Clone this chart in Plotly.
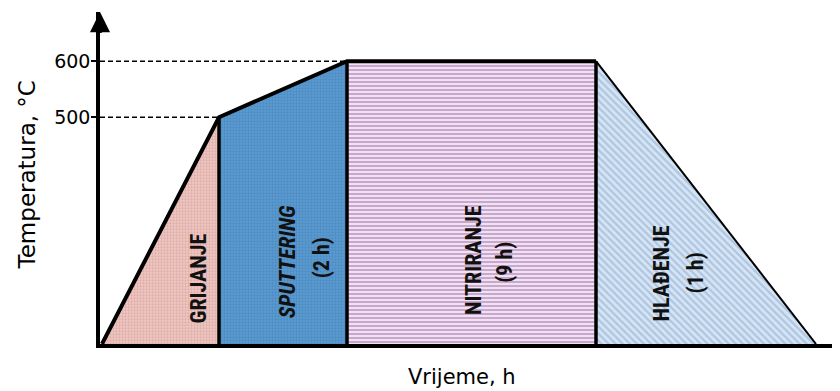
import plotly.graph_objects as go

# Schematic process profile (time axis is schematic, not to scale)
phase_time = [2, 119, 247, 496, 716]          # breakpoints on the schematic time axis
phase_temp = [95, 500, 600, 600, 95]          # temperature at each breakpoint, °C
base_temp = 95
y_ticks = [500, 600]
y_tick_labels = ["500", "600"]

phase_names = ["GRIJANJE", "<i>SPUTTERING</i>", "NITRIRANJE", "HLAĐENJE"]
phase_durations = ["", "(2 h)", "(9 h)", "(1 h)"]
# label anchor positions (schematic time, temperature) for name and duration lines
name_pos = [(98, 212), (187, 241), (373, 245), (561, 221)]
dur_pos = [(None, None), (221, 248), (405, 240), (595, 221)]

fills = [
    dict(bg="#efc9c5", fg="#cf8f88", shape=".", size=3, solidity=0.45),
    dict(bg="#5b9bd0", fg="#3d7db4", shape=".", size=3, solidity=0.45),
    dict(bg="#f1e2f1", fg="#9a62a6", shape="-", size=4, solidity=0.45),
    dict(bg="#d6e4f3", fg="#84a8d0", shape="\\", size=5, solidity=0.45),
]

t, T = phase_time, phase_temp
polys = [
    ([t[0], t[1], t[1]], [T[0], T[1], base_temp]),
    ([t[1], t[1], t[2], t[2]], [base_temp, T[1], T[2], base_temp]),
    ([t[2], t[2], t[3], t[3]], [base_temp, T[2], T[3], base_temp]),
    ([t[3], t[3], t[4]], [base_temp, T[3], T[4]]),
]

fig = go.Figure()
for (px, py), f in zip(polys, fills):
    fig.add_trace(go.Scatter(
        x=px, y=py, fill="toself", mode="lines", line=dict(width=0),
        fillcolor=f["bg"],
        fillpattern=dict(shape=f["shape"], bgcolor=f["bg"], fgcolor=f["fg"],
                         size=f["size"], solidity=f["solidity"]),
        hoverinfo="skip", showlegend=False))

# dashed reference lines
fig.add_trace(go.Scatter(
    x=[0, t[1], None, 0, t[2]], y=[T[1], T[1], None, T[2], T[2]],
    mode="lines", line=dict(color="black", width=1.5, dash="5px,3px"),
    hoverinfo="skip", showlegend=False))

# vertical dividers
vx, vy = [], []
for i in (1, 2, 3):
    vx += [t[i], t[i], None]
    vy += [base_temp, T[i], None]
fig.add_trace(go.Scatter(x=vx, y=vy, mode="lines",
                         line=dict(color="black", width=3.5),
                         hoverinfo="skip", showlegend=False))

# profile outline
fig.add_trace(go.Scatter(x=t[:4], y=T[:4], mode="lines",
                         line=dict(color="black", width=4, shape="linear"),
                         hoverinfo="skip", showlegend=False))
fig.add_trace(go.Scatter(x=t[3:], y=T[3:], mode="lines",
                         line=dict(color="black", width=2),
                         hoverinfo="skip", showlegend=False))

label_font = dict(family="Liberation Sans Narrow, Arial Narrow, Roboto Condensed, Liberation Sans, sans-serif",
                  size=22, color="#111111", weight="bold")
ann = []
for name, (nx, ny), dur, (dx, dy) in zip(phase_names, name_pos, phase_durations, dur_pos):
    ann.append(dict(x=nx, y=ny, text=f"<b>{name}</b>", textangle=-90, showarrow=False,
                    font=label_font, xanchor="center", yanchor="middle"))
    if dur:
        ann.append(dict(x=dx, y=dy, text=f"<b>{dur}</b>", textangle=-90, showarrow=False,
                        font=label_font, xanchor="center", yanchor="middle"))

y_top = 687.9
ann.append(dict(x=0, y=y_top, ax=0, ay=y_top - 40, axref="x", ayref="y",
                text="", showarrow=True, arrowhead=2, arrowsize=1.15, arrowwidth=3.5,
                arrowcolor="black"))
ann.append(dict(xref="paper", yref="paper", x=-0.099, y=0.51, text="Temperatura, °C",
                textangle=-90, showarrow=False, xanchor="center", yanchor="middle",
                font=dict(family="DejaVu Sans", size=23, color="black")))
ann.append(dict(xref="paper", yref="paper", x=0.489, y=-0.099, text="Vrijeme, h",
                showarrow=False, xanchor="center", yanchor="middle",
                font=dict(family="DejaVu Sans", size=21, color="black")))

# page body has an 8px margin, so the margins are offset to keep the plot in place
fig.update_layout(
    width=840, height=391,
    margin=dict(l=92, r=8, t=4, b=55),
    paper_bgcolor="white", plot_bgcolor="white",
    xaxis=dict(range=[0, 740], showgrid=False, zeroline=False, showticklabels=False,
               ticks="", showline=True, linecolor="black", linewidth=3.5),
    yaxis=dict(range=[base_temp, y_top], showgrid=False, zeroline=False,
               tickvals=y_ticks, ticktext=y_tick_labels, ticks="outside",
               ticklen=5, tickwidth=1.5, tickcolor="black", ticklabelstandoff=-3,
               tickfont=dict(family="DejaVu Sans", size=19, color="black"),
               showline=True, linecolor="black", linewidth=3.5),
    annotations=ann,
)
fig.write_html("out.html")
